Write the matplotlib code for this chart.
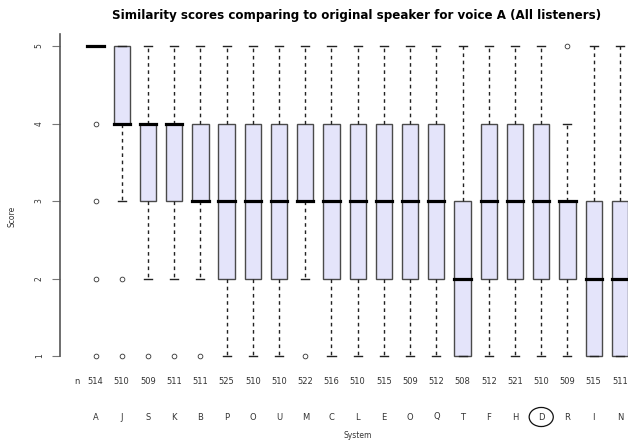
import matplotlib
matplotlib.use("Agg")
import matplotlib.pyplot as plt
from matplotlib.patches import Ellipse

plt.rcParams["font.family"] = ["DejaVu Sans"]

# Systems in plotted order, with number of ratings per system
systems = ["A", "J", "S", "K", "B", "P", "O", "U", "M", "C", "L",
           "E", "O", "Q", "T", "F", "H", "D", "R", "I", "N"]
counts = [514, 510, 509, 511, 511, 525, 510, 510, 522, 516, 510,
          515, 509, 512, 508, 512, 521, 510, 509, 515, 511]

# Five-number summaries of the similarity scores (1-5 scale)
medians = [5, 4, 4, 4, 3, 3, 3, 3, 3, 3, 3, 3, 3, 3, 2, 3, 3, 3, 3, 2, 2]
q1s     = [5, 4, 3, 3, 3, 2, 2, 2, 3, 2, 2, 2, 2, 2, 1, 2, 2, 2, 2, 1, 1]
q3s     = [5, 5, 4, 4, 4, 4, 4, 4, 4, 4, 4, 4, 4, 4, 3, 4, 4, 4, 3, 3, 3]
whis_lo = [5, 3, 2, 2, 2, 1, 1, 1, 2, 1, 1, 1, 1, 1, 1, 1, 1, 1, 1, 1, 1]
whis_hi = [5, 5, 5, 5, 5, 5, 5, 5, 5, 5, 5, 5, 5, 5, 5, 5, 5, 5, 4, 5, 5]
outliers = [[4, 3, 2, 1], [2, 1], [1], [1], [1], [], [], [], [1], [], [],
            [], [], [], [], [], [], [], [5], [], []]

highlight = "D"

n = len(systems)
positions = list(range(1, n + 1))

W, H = 628, 442
fig = plt.figure(figsize=(W / 100, H / 100), dpi=100)

# plotting region in pixels (left, top, right, bottom); right edge runs past the canvas
left_px, top_px, right_px, bottom_px = 60.4, 33.6, 655.0, 368.4
ax = fig.add_axes([left_px / W, 1 - bottom_px / H,
                   (right_px - left_px) / W, (bottom_px - top_px) / H])

stats = []
for i in range(n):
    stats.append(dict(med=medians[i], q1=q1s[i], q3=q3s[i],
                      whislo=whis_lo[i], whishi=whis_hi[i],
                      fliers=outliers[i]))

ax.bxp(stats, positions=positions, widths=0.62, patch_artist=True,
       boxprops=dict(facecolor="#e4e4fa", edgecolor="#4a4a4a", linewidth=1.0),
       medianprops=dict(color="black", linewidth=2.3, solid_capstyle="projecting"),
       whiskerprops=dict(color="#222222", linewidth=1.0, linestyle=(0, (2.6, 2.6))),
       capprops=dict(color="#222222", linewidth=1.0),
       flierprops=dict(marker="o", markersize=3.4, markerfacecolor="none",
                       markeredgecolor="#333333", markeredgewidth=0.6),
       capwidths=0.31)

span = n
ax.set_xlim(0.5 - 0.04 * span, n + 0.5 + 0.04 * span)
ax.set_ylim(1 - 0.04 * 4, 5 + 0.04 * 4)

for side in ("top", "right", "bottom"):
    ax.spines[side].set_visible(False)
ax.spines["left"].set_color("#555555")
ax.spines["left"].set_linewidth(1.2)
ax.spines["left"].set_bounds(1, 5 + 0.04 * 4)

ax.set_xticks([])
ax.set_yticks([1, 2, 3, 4, 5])
ax.set_yticklabels(["1", "2", "3", "4", "5"], rotation=90, va="center",
                   fontsize=5.5, color="#333333")
ax.tick_params(axis="y", length=6, width=0.8, color="#777777", pad=6)

# count row and system labels under the boxes
xform = ax.get_xaxis_transform()
y_counts = (bottom_px - 381) / (bottom_px - top_px)
y_names = (bottom_px - 417) / (bottom_px - top_px)
ax.text(((77 - left_px) / (right_px - left_px)), y_counts, "n",
        transform=ax.transAxes, ha="center", va="center",
        fontsize=6, color="#333333")
for x, c, s in zip(positions, counts, systems):
    ax.text(x, y_counts, str(c), transform=xform, ha="center", va="center",
            fontsize=6, color="#333333", clip_on=False)
    ax.text(x, y_names, s, transform=xform, ha="center", va="center",
            fontsize=6, color="#333333", clip_on=False)
    if s == highlight:
        ax.add_patch(Ellipse((x, y_names), 0.92, 0.057, transform=xform,
                             fill=False, edgecolor="#111111", linewidth=0.9,
                             clip_on=False))

fig.text(358 / W, 1 - 435 / H, "System", ha="center", va="center",
         fontsize=5.5, color="#333333")
fig.text(12 / W, 1 - 216 / H, "Score", ha="center", va="center",
         rotation=90, fontsize=5.5, color="#333333")

fig.text(357 / W, 1 - 15 / H,
         "Similarity scores comparing to original speaker for voice A (All listeners)",
         ha="center", va="center", fontsize=8.6, fontweight="bold", color="black")

fig.savefig("out.png", dpi=100)
